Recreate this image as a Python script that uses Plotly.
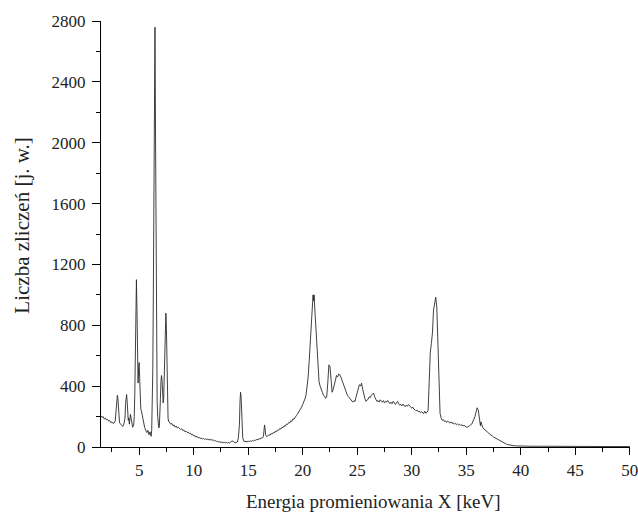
import plotly.graph_objects as go

energy_keV = [
    1.5, 1.6, 1.7, 1.8, 1.9, 2.0, 2.1, 2.2, 2.3, 2.4, 2.5, 2.6, 2.7, 2.8,
    2.85, 2.9, 2.95, 3.0, 3.05, 3.1, 3.15, 3.2, 3.3, 3.4, 3.5, 3.6, 3.7,
    3.75, 3.8, 3.85, 3.9, 3.95, 4.0, 4.05, 4.1, 4.2, 4.3, 4.4, 4.5, 4.55,
    4.6, 4.65, 4.7, 4.75, 4.8, 4.85, 4.9, 4.95, 5.0, 5.05, 5.1, 5.15, 5.2,
    5.3, 5.4, 5.5, 5.6, 5.7, 5.8, 5.9, 6.0, 6.1, 6.15, 6.2,
    6.25, 6.3, 6.35, 6.4, 6.45, 6.5, 6.55, 6.6, 6.65, 6.7, 6.75, 6.8, 6.85, 6.9,
    6.95, 7.0, 7.05, 7.1, 7.15, 7.2, 7.25, 7.3, 7.35, 7.4, 7.45, 7.5, 7.55,
    7.6, 7.65, 7.7, 7.8, 7.9, 8.0, 8.1,
    8.2, 8.3, 8.4, 8.5, 8.6, 8.7, 8.8, 8.9, 9.0, 9.1, 9.2, 9.3, 9.4, 9.5,
    9.6, 9.7, 9.8, 9.9, 10.0, 10.1, 10.2, 10.3, 10.4, 10.5, 10.6, 10.7, 10.8,
    10.9, 11.0, 11.1, 11.2, 11.3, 11.4, 11.5, 11.6, 11.7, 11.8, 11.9, 12.0,
    12.1, 12.2, 12.3, 12.4, 12.5, 12.6, 12.7, 12.8, 12.9, 13.0, 13.1, 13.2,
    13.3, 13.4, 13.5, 13.6, 13.7, 13.8, 13.9, 14.0, 14.1, 14.2, 14.25, 14.3,
    14.35, 14.4, 14.5, 14.6, 14.7, 14.8, 14.9, 15.0, 15.1, 15.2, 15.3, 15.4,
    15.5, 15.6, 15.7, 15.8, 15.9, 16.0, 16.1, 16.2, 16.3, 16.4, 16.45, 16.5,
    16.55, 16.6, 16.7, 16.8, 16.9, 17.0, 17.1, 17.2, 17.3, 17.4, 17.5, 17.6,
    17.7, 17.8, 17.9, 18.0, 18.1, 18.2, 18.3, 18.4, 18.5, 18.6, 18.7, 18.8,
    18.9, 19.0, 19.1, 19.2, 19.3, 19.4, 19.5, 19.6, 19.7, 19.8, 19.9, 20.0,
    20.1, 20.2, 20.3, 20.4, 20.5, 20.6, 20.7, 20.8, 20.9, 20.95, 21.0, 21.05,
    21.1, 21.2, 21.3, 21.4, 21.5, 21.6, 21.7, 21.8, 21.9, 22.0, 22.1, 22.2,
    22.3, 22.4, 22.5, 22.6, 22.7, 22.8, 22.9, 23.0, 23.1, 23.2, 23.3, 23.4,
    23.5, 23.6, 23.7, 23.8, 23.9, 24.0, 24.1, 24.2, 24.3, 24.4, 24.5, 24.6,
    24.7, 24.8, 24.9, 25.0, 25.1, 25.2, 25.3, 25.4, 25.5, 25.6, 25.7, 25.8,
    25.9, 26.0, 26.1, 26.2, 26.3, 26.4, 26.5, 26.6, 26.7, 26.8, 26.9, 27.0,
    27.1, 27.2, 27.3, 27.4, 27.5, 27.6, 27.7, 27.8, 27.9, 28.0, 28.1, 28.2,
    28.3, 28.4, 28.5, 28.6, 28.7, 28.8, 28.9, 29.0, 29.1, 29.2, 29.3, 29.4,
    29.5, 29.6, 29.7, 29.8, 29.9, 30.0, 30.1, 30.2, 30.3, 30.4, 30.5, 30.6,
    30.7, 30.8, 30.9, 31.0, 31.1, 31.2, 31.3, 31.4, 31.5, 31.6, 31.7, 31.8,
    31.9, 32.0, 32.1, 32.2, 32.3, 32.4, 32.5, 32.6, 32.7, 32.8, 32.9, 33.0,
    33.1, 33.2, 33.3, 33.4, 33.5, 33.6, 33.7, 33.8, 33.9, 34.0, 34.1, 34.2,
    34.3, 34.4, 34.5, 34.6, 34.7, 34.8, 34.9, 35.0, 35.1, 35.2, 35.3, 35.4,
    35.5, 35.6, 35.7, 35.8, 35.9, 36.0, 36.1, 36.2, 36.3, 36.35, 36.4, 36.5,
    36.6, 36.7, 36.8, 36.9, 37.0, 37.1, 37.2, 37.3, 37.4, 37.5, 37.6, 37.7,
    37.8, 37.9, 38.0, 38.1, 38.2, 38.3, 38.4, 38.5, 38.6, 38.7, 38.8, 38.9,
    39.0, 39.2, 39.4, 39.6, 39.8, 40.0, 41.0, 42.0, 43.0, 44.0, 45.0, 46.0,
    47.0, 48.0, 49.0, 50.0,
]

counts = [
    205, 195, 200, 185, 190, 178, 182, 170, 174, 160, 165, 155, 158, 170,
    210, 280, 330, 340, 320, 250, 190, 160, 150, 140, 135, 150, 190,
    280, 335, 345, 300, 220, 175, 190, 150, 215, 160, 130, 145, 200,
    350, 600, 950, 1100, 900, 500, 420, 520, 555, 450, 300, 250, 240,
    200, 160, 130, 110, 95, 110, 80, 100, 70, 110, 250,
    500, 1000, 1780, 2400, 2760, 2070, 1200, 600, 300, 200, 150, 125, 135, 200,
    320, 430, 470, 440, 330, 290, 320, 500, 750, 860, 880, 780, 450,
    250, 190, 170, 160, 150, 155, 140,
    145, 130, 138, 125, 130, 120, 115, 120, 108, 112, 100, 104, 95, 98,
    88, 92, 80, 84, 72, 76, 65, 70, 60, 64, 55, 60, 52,
    56, 50, 54, 48, 52, 50, 46, 50, 44, 46, 40, 42,
    36, 38, 32, 35, 30, 33, 28, 31, 27, 30, 26, 29,
    27, 32, 40, 38, 30, 28, 30, 32, 60, 150, 300, 360,
    330, 200, 60, 38, 35, 36, 34, 38, 36, 40, 38, 42,
    40, 45, 44, 50, 48, 55, 52, 60, 58, 70, 110, 145,
    120, 80, 68, 72, 80, 78, 88, 85, 95, 92, 105, 100,
    112, 110, 122, 118, 130, 128, 140, 136, 150, 148, 160, 158,
    172, 168, 185, 182, 198, 205, 215, 225, 235, 250, 262, 280,
    295, 315, 340, 390, 460, 570, 700, 820, 950, 1000, 960, 1000,
    920, 780, 620, 510, 430, 400, 370, 360, 340, 335, 320, 330,
    420, 540, 530, 440, 360, 380, 420, 440, 470, 460, 480, 475,
    460, 440, 420, 390, 370, 350, 340, 330, 320, 310, 300, 295,
    305, 300, 330, 360, 390, 410, 400, 420, 380, 340, 320, 300,
    305, 315, 330, 325, 340, 345, 355, 330, 310, 300, 305, 295,
    310, 300, 295, 305, 290, 300, 295, 305, 290, 285, 295, 285,
    300, 290, 280, 290, 300, 285, 275, 280, 270, 282, 275, 265,
    275, 268, 280, 272, 260, 255, 262, 248, 245, 238, 242, 232,
    236, 225, 232, 228, 220, 235, 222, 228, 240, 420, 620, 680,
    750, 900, 960, 985, 920, 700, 400, 220, 190, 175, 180, 168,
    172, 162, 170, 160, 158, 165, 155, 160, 150, 155, 148, 152,
    145, 150, 142, 146, 138, 142, 135, 132, 130, 138, 140, 145,
    150, 165, 180, 200, 230, 258, 245, 190, 140, 165, 150, 130,
    120, 115, 105, 100, 95, 88, 84, 78, 72, 66, 62, 56,
    52, 46, 42, 38, 34, 30, 27, 24, 21, 18, 16, 14,
    12, 10, 8, 7, 6, 6, 5, 5, 4, 4, 4, 3,
    3, 3, 3, 3,
]

x_ticks = [5, 10, 15, 20, 25, 30, 35, 40, 45, 50]
y_ticks = [0, 400, 800, 1200, 1600, 2000, 2400, 2800]
x_title = "Energia promieniowania X [keV]"
y_title = "Liczba zliczeń [j. w.]"

font_family = "Liberation Serif, Times New Roman, serif"
ink = "#222222"

fig = go.Figure()
fig.add_trace(go.Scatter(
    x=energy_keV, y=counts, mode="lines",
    line=dict(color="#2a2a2a", width=0.9),
    showlegend=False, hoverinfo="skip",
))

fig.update_layout(
    width=638, height=513,
    margin=dict(l=101, r=8, t=21, b=66),
    paper_bgcolor="white", plot_bgcolor="white",
    font=dict(family=font_family, color=ink, size=17),
    xaxis=dict(
        range=[1.5, 50.02], tickvals=x_ticks, ticktext=[str(v) for v in x_ticks],
        ticks="outside", ticklen=7, tickwidth=1.2, tickcolor="black",
        showline=True, linecolor="black", linewidth=1.2,
        showgrid=False, zeroline=False, automargin=False,
        ticklabeloverflow="allow",
        minor=dict(dtick=2.5, tick0=0, ticks="outside", ticklen=4, tickcolor="black", tickwidth=1.2, showgrid=False),
        tickfont=dict(size=17, family=font_family, color=ink),
    ),
    yaxis=dict(
        range=[0, 2800.5], tickvals=y_ticks, ticktext=[str(v) for v in y_ticks],
        ticks="outside", ticklen=8, tickwidth=1.2, tickcolor="black",
        showline=True, linecolor="black", linewidth=1.2,
        showgrid=False, zeroline=False, automargin=False,
        ticklabelstandoff=3,
        minor=dict(dtick=200, tick0=0, ticks="outside", ticklen=4, tickcolor="black", tickwidth=1.2, showgrid=False),
        tickfont=dict(size=17, family=font_family, color=ink),
    ),
    annotations=[
        dict(text=x_title, xref="paper", yref="paper", x=0.515, y=-0.128,
             xanchor="center", yanchor="middle", showarrow=False,
             font=dict(size=19, family=font_family, color=ink)),
        dict(text=y_title, xref="paper", yref="paper", x=-0.149, y=0.52,
             xanchor="center", yanchor="middle", textangle=-90, showarrow=False,
             font=dict(size=21, family=font_family, color=ink)),
    ],
)

fig.write_html(
    "out.html",
    config={"displayModeBar": False},
    post_script="document.body.style.margin='0';document.body.style.overflow='hidden';",
)
